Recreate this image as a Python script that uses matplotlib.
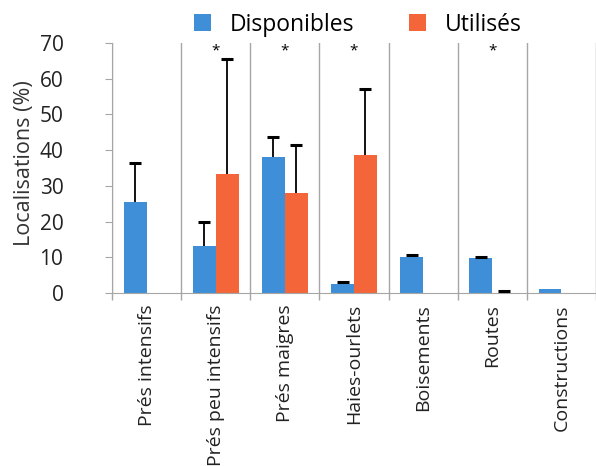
import numpy as np
import matplotlib.pyplot as plt

plt.rcParams['font.family'] = ['Open Sans', 'DejaVu Sans']

categories = ['Prés intensifs', 'Prés peu intensifs', 'Prés maigres', 'Haies-ourlets',
              'Boisements', 'Routes', 'Constructions']
disponibles = [25.5, 13.2, 38.0, 2.6, 10.1, 9.7, 1.1]
disponibles_err = [10.9, 6.8, 5.7, 0.6, 0.5, 0.4, 0.0]
utilises = [0.0, 33.2, 27.9, 38.7, 0.0, 0.0, 0.0]
utilises_err = [0.0, 32.4, 13.5, 18.5, 0.0, 0.7, 0.0]
significatif = [False, True, True, True, False, True, False]

blue = '#3F8FD8'
orange = '#F4663A'
grey = '#A6A6A6'

fig = plt.figure(figsize=(5.96, 4.66), dpi=100)
ax = fig.add_axes([0.188, 0.371, 0.812, 0.537])

x = np.arange(len(categories))
w = 0.33

ax.bar(x - w / 2, disponibles, w, color=blue, label='Disponibles', zorder=2)
ax.bar(x + w / 2, utilises, w, color=orange, label='Utilisés', zorder=2)


def upper_errors(xpos, vals, errs):
    # only the upper half of the error bar, like in the original figure
    keep = [i for i, e in enumerate(errs) if e > 0]
    xs = np.array(xpos)[keep]
    ys = np.array(vals)[keep]
    es = np.array(errs)[keep]
    _, caps, _ = ax.errorbar(xs, ys, yerr=[np.zeros(len(es)), es], fmt='none',
                             ecolor='black', elinewidth=1.3, capsize=4,
                             capthick=2.2, zorder=3)
    caps[0].set_visible(False)


upper_errors(x - w / 2, disponibles, disponibles_err)
upper_errors(x + w / 2, utilises, utilises_err)

for i, s in enumerate(significatif):
    if s:
        ax.text(i, 67.8, '*', ha='center', va='center', fontsize=11)

ax.set_xlim(-0.5, len(categories) - 0.5)
ax.set_ylim(0, 70)
ax.set_yticks(range(0, 71, 10))
ax.set_ylabel('Localisations (%)', fontsize=15.5, color='#333333')
ax.yaxis.set_label_coords(-0.16, 0.52)

ax.set_xticks(x)
ax.set_xticklabels(categories, rotation=90, fontsize=14, color='#222222')
ax.tick_params(axis='x', length=0, pad=8)
ax.set_xticks(np.arange(-0.5, len(categories) - 0.4, 1), minor=True)
ax.tick_params(axis='x', which='minor', length=5, color=grey, width=1)
ax.grid(True, axis='x', which='minor', color=grey, linewidth=1, zorder=0)
ax.tick_params(axis='y', labelsize=15, length=5, pad=30, color=grey, labelcolor='#222222')

for side in ['top', 'right']:
    ax.spines[side].set_visible(False)
for side in ['left', 'bottom']:
    ax.spines[side].set_color(grey)

ax.legend(loc='center', bbox_to_anchor=(0.508, 1.072), ncol=2, frameon=False,
          fontsize=16.5, handlelength=0.75, handleheight=0.75, columnspacing=2.4,
          handletextpad=0.8)

fig.savefig('out.png', dpi=100)
